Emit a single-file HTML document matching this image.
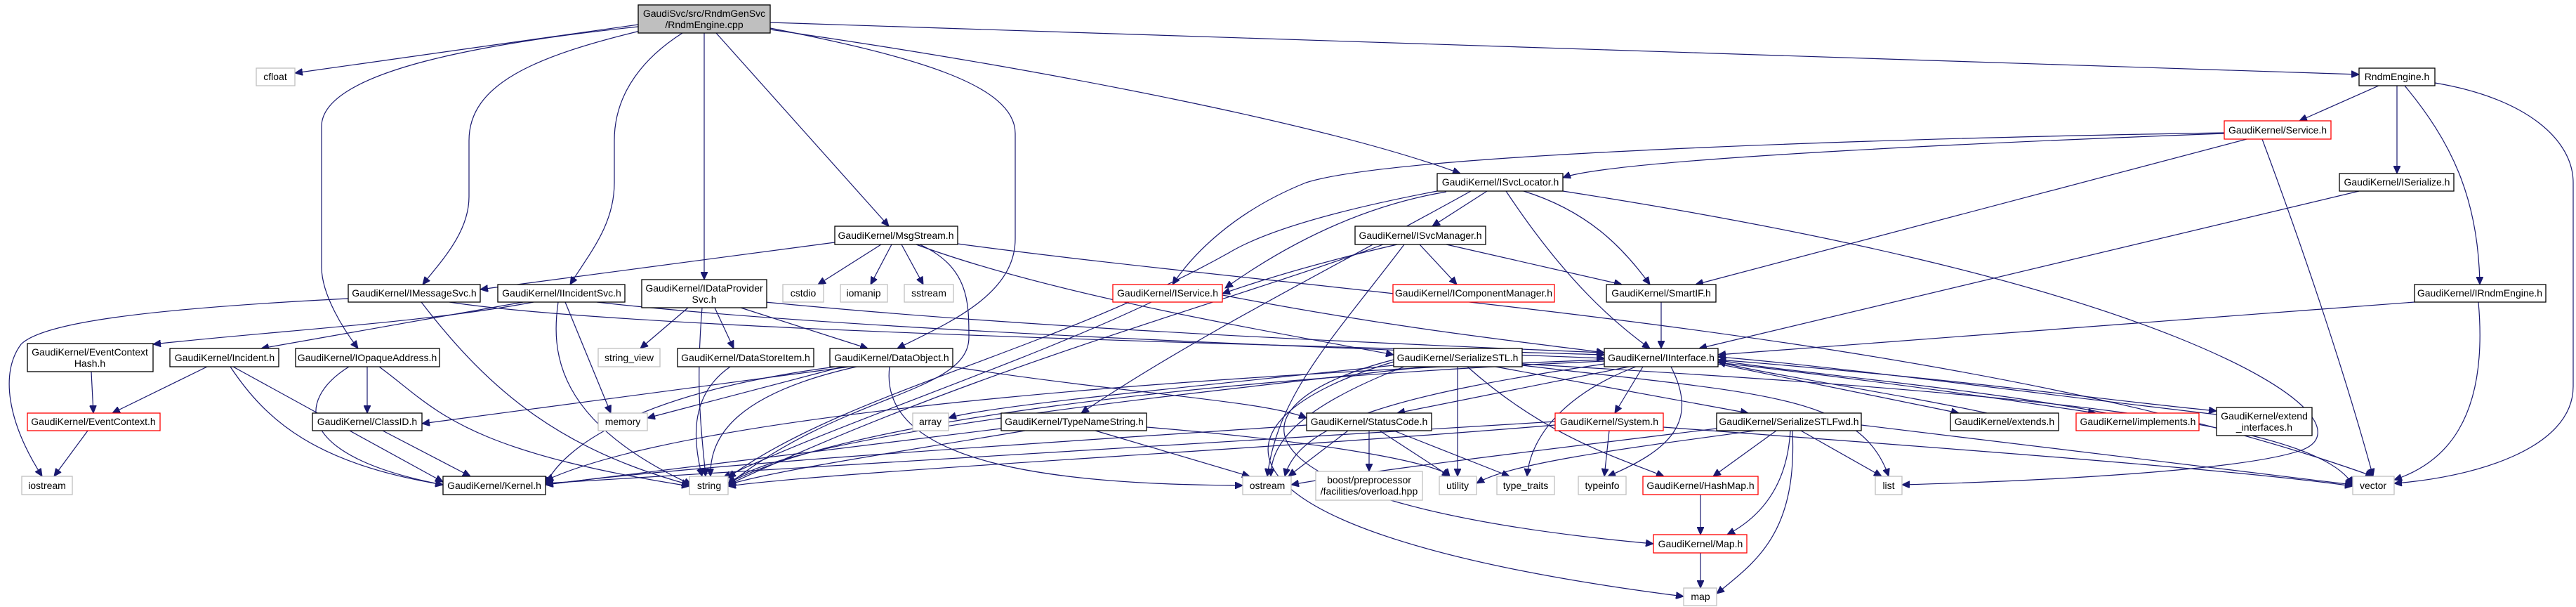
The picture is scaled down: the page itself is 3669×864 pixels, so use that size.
<!DOCTYPE html>
<html><head><meta charset="utf-8"><style>
html,body{margin:0;padding:0;background:#fff;}
svg{display:block;}
text{font-family:"Liberation Sans",sans-serif;font-size:14px;fill:#000;text-anchor:middle;}
.n{fill:#fff;stroke:#000;stroke-width:1.3;}
.g{fill:#fff;stroke:#bfbfbf;stroke-width:1.3;}
.r{fill:#fff;stroke:#ff0000;stroke-width:1.3;}
.e path{fill:none;stroke:#191970;stroke-width:1.2;marker-end:url(#a);}
</style></head><body>
<svg width="3669" height="864" viewBox="0 0 3669 864" xmlns="http://www.w3.org/2000/svg">
<defs><marker id="a" markerUnits="userSpaceOnUse" markerWidth="12" markerHeight="10" refX="11" refY="5" orient="auto"><path d="M0,0 L11,5 L0,10 z" fill="#191970" stroke="#191970"/></marker></defs>
<g class="e">
<path d="M909,35 L420,104"/>
<path d="M909,38 C700,60 458,100 458,180 L458,380 C458,420 490,470 510,496"/>
<path d="M920,42 C760,80 668,120 668,200 L668,280 C668,330 630,370 602,405"/>
<path d="M972,47 C920,80 875,130 875,200 L875,260 C875,320 840,360 812,405"/>
<path d="M1003,47 L1003,398"/>
<path d="M1020,47 L1266,322"/>
<path d="M1097,40 C1300,80 1446,120 1446,190 L1446,340 C1446,420 1350,460 1278,496"/>
<path d="M1097,42 C1500,100 1900,180 2080,247"/>
<path d="M1097,32 L3360,106"/>
<path d="M3388,122 L3275,172"/>
<path d="M3414,122 L3414,247"/>
<path d="M3425,122 C3490,200 3530,280 3532,405"/>
<path d="M3468,118 C3600,140 3665,200 3665,260 L3665,550 C3665,640 3520,680 3410,688"/>
<path d="M3168,190 C2900,200 2300,225 2226,253"/>
<path d="M3168,189 C2800,195 2000,215 1860,260 C1760,300 1700,360 1670,405"/>
<path d="M3200,198 L2415,405"/>
<path d="M3222,198 C3290,380 3345,550 3380,678"/>
<path d="M3360,272 L2420,496"/>
<path d="M3439,430 L2447,505"/>
<path d="M3530,430 C3545,600 3480,660 3410,683"/>
<path d="M2118,272 L2040,322"/>
<path d="M2145,272 C2230,400 2300,460 2350,496"/>
<path d="M2170,272 C2260,300 2310,350 2350,405"/>
<path d="M2226,272 C2600,330 2900,400 3100,480 C3300,560 3330,620 3280,640 C3200,670 2900,685 2709,690"/>
<path d="M2095,272 C1900,380 1700,480 1540,588"/>
<path d="M2047,272 C1900,300 1800,330 1750,360 C1500,500 1200,560 1037,680"/>
<path d="M2060,273 Q1900,300 1745,410"/>
<path d="M1990,348 Q1850,380 1741,418"/>
<path d="M2022,348 L2075,405"/>
<path d="M2060,348 L2310,405"/>
<path d="M2000,348 C1900,480 1820,560 1805,678"/>
<path d="M1970,348 C1750,430 1400,520 1037,690"/>
<path d="M2366,430 L2366,496"/>
<path d="M1189,345 L684,412"/>
<path d="M1255,348 L1165,405"/>
<path d="M1270,348 L1240,405"/>
<path d="M1284,348 L1315,405"/>
<path d="M1310,348 C1380,380 1380,430 1380,480 C1380,560 1200,560 1037,690"/>
<path d="M1305,348 C1500,420 1800,470 1985,505"/>
<path d="M1364,347 C1900,420 2800,470 3380,678"/>
<path d="M496,425 C200,440 60,460 30,490 C0,530 10,600 60,678"/>
<path d="M600,430 C700,560 800,640 982,690"/>
<path d="M640,430 C900,470 1800,490 2285,505"/>
<path d="M760,430 C600,460 400,470 218,490"/>
<path d="M745,430 L372,496"/>
<path d="M795,430 C785,500 790,600 985,690"/>
<path d="M805,430 L870,588"/>
<path d="M850,430 C1200,470 1900,495 2285,510"/>
<path d="M130,529 L133,588"/>
<path d="M125,613 L77,678"/>
<path d="M295,522 L160,588"/>
<path d="M328,522 C380,600 450,660 631,690"/>
<path d="M332,522 L631,686"/>
<path d="M523,522 L523,588"/>
<path d="M497,522 C420,570 420,650 631,690"/>
<path d="M540,522 C620,580 650,640 982,692"/>
<path d="M545,613 L670,678"/>
<path d="M1040,522 C985,560 985,620 1000,678"/>
<path d="M1210,522 L601,603"/>
<path d="M1200,522 L922,595"/>
<path d="M1220,522 C1050,560 1010,620 1012,678"/>
<path d="M1267,522 C1250,660 1500,690 1770,691"/>
<path d="M1357,522 C1600,560 1800,570 1861,595"/>
<path d="M1190,522 C900,560 800,640 777,690"/>
<path d="M980,438 L912,496"/>
<path d="M1018,438 L1045,496"/>
<path d="M1055,438 L1236,496"/>
<path d="M1090,430 C1500,470 2000,490 2285,502"/>
<path d="M1000,438 C990,560 1000,620 1005,678"/>
<path d="M1640,430 C1450,520 1200,600 1030,680"/>
<path d="M1741,420 C2000,470 2200,490 2285,502"/>
<path d="M1460,613 C1300,640 1100,670 1037,690"/>
<path d="M1560,613 L1780,678"/>
<path d="M1633,608 C1900,630 2050,660 2065,678"/>
<path d="M1426,610 L777,690"/>
<path d="M2030,522 C1700,560 1100,620 1037,690"/>
<path d="M2000,522 C1850,580 1810,630 1810,678"/>
<path d="M2076,522 L2076,678"/>
<path d="M2090,522 C2200,620 2300,650 2370,678"/>
<path d="M2130,522 L2490,588"/>
<path d="M1985,520 C1600,560 1400,580 1351,595"/>
<path d="M2168,520 C2500,560 2650,560 2690,678"/>
<path d="M2168,518 C2900,560 3300,600 3351,690"/>
<path d="M1985,515 C1700,600 1700,760 2398,849"/>
<path d="M1985,512 C1720,580 1760,720 2355,774"/>
<path d="M2320,522 L1990,588"/>
<path d="M2340,522 L2300,588"/>
<path d="M2330,522 C2230,560 2180,620 2175,678"/>
<path d="M2380,522 C2420,600 2380,640 2290,678"/>
<path d="M2285,518 C2000,560 1850,600 1830,678"/>
<path d="M2285,514 C1700,540 1200,600 1037,688"/>
<path d="M2285,512 C1800,530 1000,580 777,684"/>
<path d="M2830,588 C2700,560 2500,530 2447,515"/>
<path d="M3000,588 C2800,550 2500,525 2447,512"/>
<path d="M3157,590 C2900,560 2600,520 2447,508"/>
<path d="M2447,518 C2600,550 2750,580 2790,588"/>
<path d="M2447,516 C2700,545 2900,575 2985,588"/>
<path d="M2447,512 C2800,540 3000,570 3157,585"/>
<path d="M1920,613 L1835,678"/>
<path d="M1950,613 L1950,671"/>
<path d="M1965,613 L2065,678"/>
<path d="M1985,613 L2150,678"/>
<path d="M1861,605 C1500,630 1000,660 777,690"/>
<path d="M2292,613 L2285,678"/>
<path d="M2215,605 C1800,640 1200,670 1037,692"/>
<path d="M2215,600 L777,688"/>
<path d="M2369,608 C2800,640 3200,670 3351,692"/>
<path d="M2530,613 L2440,678"/>
<path d="M2550,613 C2545,700 2500,740 2460,761"/>
<path d="M2553,613 C2560,760 2500,800 2445,845"/>
<path d="M2565,613 L2680,678"/>
<path d="M2500,613 C2300,640 2150,660 2103,688"/>
<path d="M2445,610 C2200,640 1950,670 1839,690"/>
<path d="M2651,605 L3351,690"/>
<path d="M2422,704 L2422,761"/>
<path d="M2422,787 L2422,837"/>
</g>
<g>
<rect x="909" y="7" width="188" height="40" fill="#bfbfbf" stroke="#000" stroke-width="1.3"/><text x="1003" y="24">GaudiSvc/src/RndmGenSvc</text><text x="1003" y="40">/RndmEngine.cpp</text>
<rect class="g" x="365" y="97" width="55" height="25"/><text x="392" y="114">cfloat</text>
<rect class="n" x="496" y="405" width="188" height="25"/><text x="590" y="422">GaudiKernel/IMessageSvc.h</text>
<rect class="n" x="709" y="405" width="181" height="25"/><text x="800" y="422">GaudiKernel/IIncidentSvc.h</text>
<rect class="n" x="39" y="489" width="179" height="40"/><text x="128" y="506">GaudiKernel/EventContext</text><text x="128" y="522">Hash.h</text>
<rect class="n" x="242" y="496" width="155" height="26"/><text x="320" y="514">GaudiKernel/Incident.h</text>
<rect class="n" x="421" y="496" width="205" height="26"/><text x="523" y="514">GaudiKernel/IOpaqueAddress.h</text>
<rect class="g" x="852" y="496" width="88" height="26"/><text x="896" y="514">string_view</text>
<rect class="r" x="39" y="588" width="189" height="25"/><text x="133" y="605">GaudiKernel/EventContext.h</text>
<rect class="n" x="445" y="588" width="156" height="25"/><text x="523" y="605">GaudiKernel/ClassID.h</text>
<rect class="g" x="852" y="588" width="70" height="25"/><text x="887" y="605">memory</text>
<rect class="g" x="31" y="678" width="72" height="26"/><text x="67" y="696">iostream</text>
<rect class="n" x="631" y="678" width="146" height="26"/><text x="704" y="696">GaudiKernel/Kernel.h</text>
<rect class="n" x="1189" y="322" width="175" height="26"/><text x="1276" y="340">GaudiKernel/MsgStream.h</text>
<rect class="n" x="914" y="398" width="178" height="40"/><text x="1003" y="415">GaudiKernel/IDataProvider</text><text x="1003" y="431">Svc.h</text>
<rect class="g" x="1115" y="405" width="58" height="25"/><text x="1144" y="422">cstdio</text>
<rect class="g" x="1197" y="405" width="67" height="25"/><text x="1230" y="422">iomanip</text>
<rect class="g" x="1288" y="405" width="70" height="25"/><text x="1323" y="422">sstream</text>
<rect class="r" x="1585" y="405" width="156" height="25"/><text x="1663" y="422">GaudiKernel/IService.h</text>
<rect class="n" x="965" y="496" width="194" height="26"/><text x="1062" y="514">GaudiKernel/DataStoreItem.h</text>
<rect class="n" x="1182" y="496" width="175" height="26"/><text x="1270" y="514">GaudiKernel/DataObject.h</text>
<rect class="g" x="1300" y="588" width="51" height="25"/><text x="1325" y="605">array</text>
<rect class="n" x="1426" y="588" width="207" height="25"/><text x="1530" y="605">GaudiKernel/TypeNameString.h</text>
<rect class="g" x="982" y="678" width="55" height="26"/><text x="1010" y="696">string</text>
<rect class="g" x="1770" y="678" width="69" height="26"/><text x="1805" y="696">ostream</text>
<rect class="n" x="2047" y="247" width="179" height="25"/><text x="2137" y="264">GaudiKernel/ISvcLocator.h</text>
<rect class="n" x="1930" y="322" width="186" height="26"/><text x="2023" y="340">GaudiKernel/ISvcManager.h</text>
<rect class="r" x="1984" y="405" width="230" height="25"/><text x="2099" y="422">GaudiKernel/IComponentManager.h</text>
<rect class="n" x="2288" y="405" width="156" height="25"/><text x="2366" y="422">GaudiKernel/SmartIF.h</text>
<rect class="n" x="1985" y="496" width="183" height="26"/><text x="2076" y="514">GaudiKernel/SerializeSTL.h</text>
<rect class="n" x="2285" y="496" width="162" height="26"/><text x="2366" y="514">GaudiKernel/IInterface.h</text>
<rect class="n" x="1861" y="588" width="178" height="25"/><text x="1950" y="605">GaudiKernel/StatusCode.h</text>
<rect class="r" x="2215" y="588" width="154" height="25"/><text x="2292" y="605">GaudiKernel/System.h</text>
<rect class="n" x="2445" y="588" width="206" height="25"/><text x="2548" y="605">GaudiKernel/SerializeSTLFwd.h</text>
<rect class="g" x="1874" y="671" width="152" height="41"/><text x="1950" y="688">boost/preprocessor</text><text x="1950" y="704">/facilities/overload.hpp</text>
<rect class="g" x="2050" y="678" width="53" height="26"/><text x="2076" y="696">utility</text>
<rect class="g" x="2132" y="678" width="82" height="26"/><text x="2173" y="696">type_traits</text>
<rect class="g" x="2248" y="678" width="68" height="26"/><text x="2282" y="696">typeinfo</text>
<rect class="r" x="2340" y="678" width="164" height="26"/><text x="2422" y="696">GaudiKernel/HashMap.h</text>
<rect class="g" x="2671" y="678" width="38" height="26"/><text x="2690" y="696">list</text>
<rect class="r" x="2355" y="761" width="133" height="26"/><text x="2422" y="779">GaudiKernel/Map.h</text>
<rect class="g" x="2398" y="837" width="47" height="25"/><text x="2422" y="854">map</text>
<rect class="n" x="3360" y="97" width="108" height="25"/><text x="3414" y="114">RndmEngine.h</text>
<rect class="r" x="3168" y="172" width="152" height="26"/><text x="3244" y="190">GaudiKernel/Service.h</text>
<rect class="n" x="3332" y="247" width="163" height="25"/><text x="3414" y="264">GaudiKernel/ISerialize.h</text>
<rect class="n" x="3439" y="405" width="187" height="25"/><text x="3532" y="422">GaudiKernel/IRndmEngine.h</text>
<rect class="n" x="2778" y="588" width="154" height="25"/><text x="2855" y="605">GaudiKernel/extends.h</text>
<rect class="r" x="2957" y="588" width="175" height="25"/><text x="3045" y="605">GaudiKernel/implements.h</text>
<rect class="n" x="3157" y="580" width="136" height="40"/><text x="3225" y="597">GaudiKernel/extend</text><text x="3225" y="613">_interfaces.h</text>
<rect class="g" x="3351" y="678" width="59" height="26"/><text x="3380" y="696">vector</text>
</g>
</svg>
</body></html>
